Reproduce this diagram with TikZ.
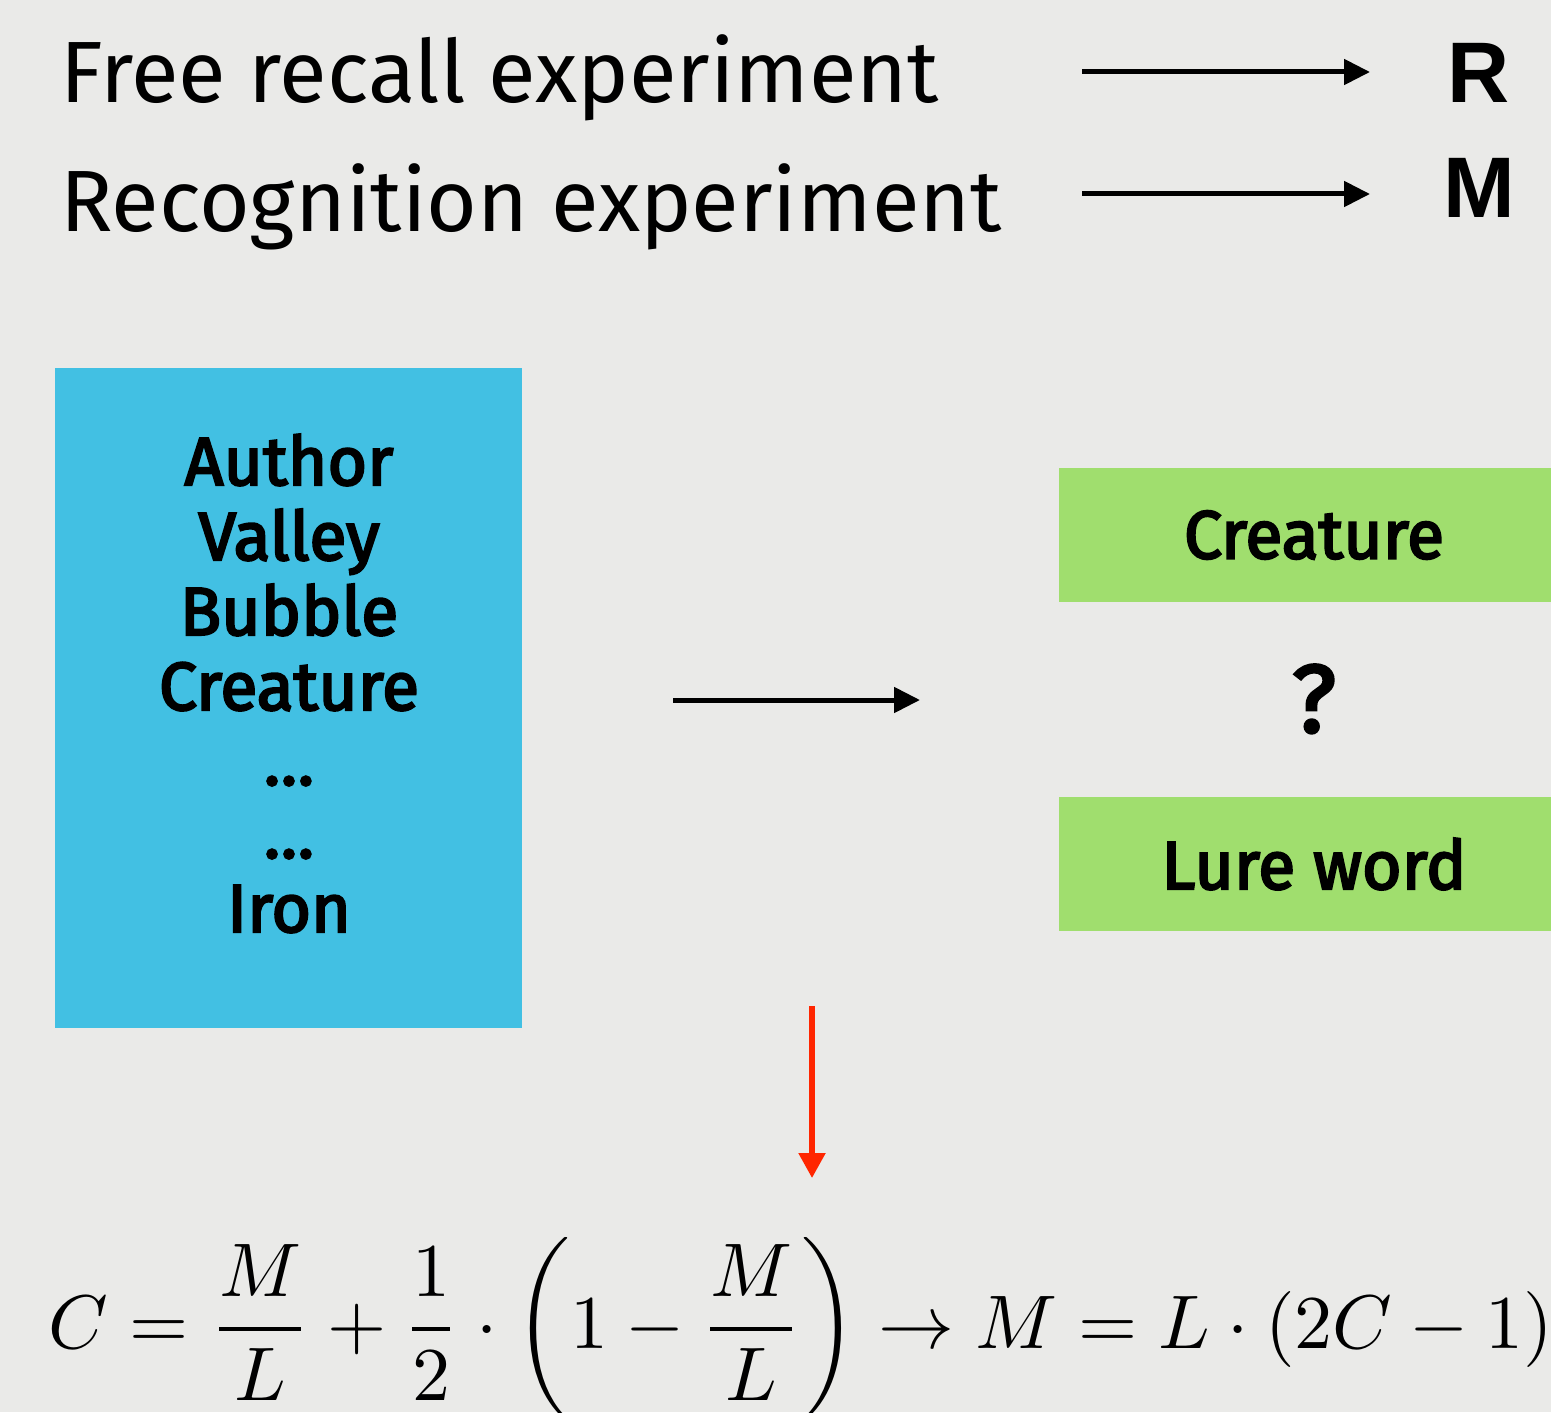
\documentclass[tikz,border=0pt]{standalone}
\usepackage{graphicx}
\usepackage[no-math]{fontspec}
\setmainfont{Fira Sans}
\newfontfamily\wordfont{Fira Sans}[FakeBold=3.2]
\newfontfamily\letterfont{Liberation Sans}
\usetikzlibrary{arrows.meta}

\definecolor{bg}{RGB}{234,234,232}
\definecolor{listblue}{RGB}{66,192,227}
\definecolor{testgreen}{RGB}{160,222,110}
\definecolor{linkred}{RGB}{255,38,0}

\tikzset{
  headline/.style={anchor=base west, inner sep=0pt, font=\fontsize{43.5}{48}\selectfont},
  result/.style={anchor=base, inner sep=0pt, font=\letterfont\bfseries\fontsize{43}{46}\selectfont},
  listword/.style={anchor=base, inner sep=0pt, font=\wordfont\fontsize{34}{38}\selectfont},
  greenbox/.style={fill=testgreen, inner sep=0pt, minimum width=255pt, minimum height=67pt,
                   font=\wordfont\fontsize{34}{38}\selectfont},
  blackarrow/.style={line width=2.5pt, -{Triangle[length=13pt,width=12.5pt]}},
  redarrow/.style={linkred, line width=2.6pt, -{Triangle[length=12.5pt,width=13pt]}}
}

\begin{document}
\begin{tikzpicture}[x=0.5pt,y=-0.5pt]
  % canvas
  \fill[bg] (0,0) rectangle (1551,1412);
  \useasboundingbox (0,0) rectangle (1551,1412);
  \clip (0,0) rectangle (1551,1412);

  % experiment types and what they measure
  \node[headline] (free) at (60,103) {Free recall experiment};
  \node[headline] (recog) at (60,232) {Recognition experiment};
  \node[result] (R) at (1479,103) {R};
  \node[result] (M) at (1479,218) {M};
  \coordinate (fa) at (1082,72);  \coordinate (fb) at (1370,72);
  \coordinate (ra) at (1082,194); \coordinate (rb) at (1370,194);
  \draw[blackarrow] (fa) -- (fb);
  \draw[blackarrow] (ra) -- (rb);

  % study list
  \node[fill=listblue, inner sep=0pt, minimum width=233.5pt, minimum height=330pt] (list) at (288.5,698) {};
  \node[listword] (w1) at (289,485) {Author};
  \node[listword] (w2) at (289,560) {Valley};
  \node[listword] (w3) at (289,635) {Bubble};
  \node[listword] (w4) at (289,710) {Creature};
  \node[listword] (w5) at (289,785) {…};
  \node[listword] (w6) at (289,858) {…};
  \node[listword] (w7) at (289,932) {Iron};

  % test items
  \coordinate (ma) at (673,700); \coordinate (mb) at (920,700);
  \draw[blackarrow] (ma) -- (mb);
  \node[greenbox] (target) at (1314,535) {Creature};
  \node[greenbox] (lure) at (1314,864) {Lure word};
  \node[anchor=base, inner sep=0pt, font=\wordfont\fontsize{48}{52}\selectfont] (q) at (1314,732) {?};

  % derivation, typeset at 10pt and enlarged
  \coordinate (da) at (812,1006); \coordinate (db) at (812,1178);
  \draw[redarrow] (da) -- (db);
  \node[anchor=base, inner sep=0pt, font=\fontsize{10}{12}\selectfont] (eq) at (801,1348)
    {\scalebox{3.8}{$\displaystyle C=\frac{M}{L}+\frac{1}{2}\cdot\biggl(1-\frac{M}{L}\biggr)\rightarrow M=L\cdot(2C-1)$}};
\end{tikzpicture}
\end{document}
